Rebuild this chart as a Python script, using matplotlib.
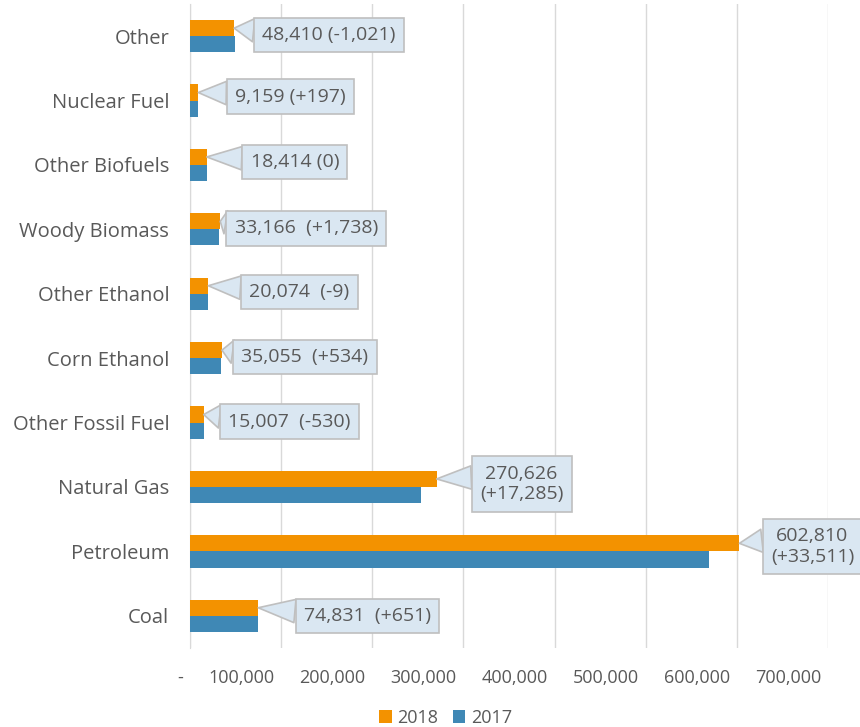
import matplotlib.pyplot as plt
import numpy as np
from matplotlib.transforms import ScaledTranslation

plt.rcParams['font.family'] = ['Open Sans', 'DejaVu Sans']

categories = ['Coal', 'Petroleum', 'Natural Gas', 'Other Fossil Fuel', 'Corn Ethanol',
              'Other Ethanol', 'Woody Biomass', 'Other Biofuels', 'Nuclear Fuel', 'Other']
v2018 = [74831, 602810, 270626, 15007, 35055, 20074, 33166, 18414, 9159, 48410]
change = [651, 33511, 17285, -530, 534, -9, 1738, 0, 197, -1021]
v2017 = [a - c for a, c in zip(v2018, change)]
xticks = [0, 100000, 200000, 300000, 400000, 500000, 600000, 700000]

# label layout: separator between value and change, and callout offset (pixels)
seps = ['  ', '\n', '\n', '  ', '  ', '  ', '  ', ' ', ' ', ' ']
offsets = [(109, -8), (73, -3), (85, -5), (86, -7), (83, -7),
           (91, -6), (86, -7), (88, -5), (92, -4), (95, -7)]

c18 = '#F39200'
c17 = '#3F88B5'
txt = '#595959'
boxfc = '#DAE7F2'
boxec = '#BFBFBF'

fig = plt.figure(figsize=(8.6, 7.27), dpi=100)
ax = fig.add_axes([190/860, 1-648/727, (828-190)/860, 644/727])

y = np.arange(len(categories))
h = 0.25
ax.barh(y + h/2, v2018, height=h, color=c18, label='2018', zorder=3)
ax.barh(y - h/2, v2017, height=h, color=c17, label='2017', zorder=3)

for i in range(len(categories)):
    ch = '0' if change[i] == 0 else f'{change[i]:+,}'
    s = f'{v2018[i]:,}{seps[i]}({ch})'
    ax.annotate(s, xy=(v2018[i], y[i] + h/2), xytext=offsets[i], textcoords='offset pixels',
                ha='center', va='center', fontsize=14, color=txt, zorder=5,
                bbox=dict(boxstyle='square,pad=0.42', fc=boxfc, ec=boxec, lw=1.2),
                arrowprops=dict(arrowstyle='wedge,tail_width=1.2', fc=boxfc, ec=boxec,
                                lw=1.2, shrinkA=0, shrinkB=0, relpos=(0.06, 0.68)))

ax.set_xlim(0, 700000)
ax.set_ylim(-0.5, len(categories) - 0.5)
ax.set_yticks(y)
ax.set_yticklabels(categories, fontsize=14.5, color=txt)
ax.set_xticks(xticks)
ax.set_xticklabels(['-' if t == 0 else f'{t:,}' for t in xticks], fontsize=13, color=txt)
ax.tick_params(axis='both', length=0)
ax.tick_params(axis='y', pad=15)
ax.tick_params(axis='x', pad=15)
off = ScaledTranslation(-7/100, 0, fig.dpi_scale_trans)
for lab in ax.get_xticklabels():
    lab.set_horizontalalignment('right')
    lab.set_transform(lab.get_transform() + off)

ax.grid(axis='x', color='#D9D9D9', lw=1, zorder=0)
for s in ['top', 'right', 'bottom']:
    ax.spines[s].set_visible(False)
ax.spines['left'].set_color('#D9D9D9')

fig.legend(loc='lower center', bbox_to_anchor=(0.518, -0.022), ncol=2, frameon=False,
           fontsize=13, handlelength=0.7, handleheight=0.7, handletextpad=0.3,
           columnspacing=0.8, labelcolor=txt)

fig.savefig('out.png', dpi=100)
